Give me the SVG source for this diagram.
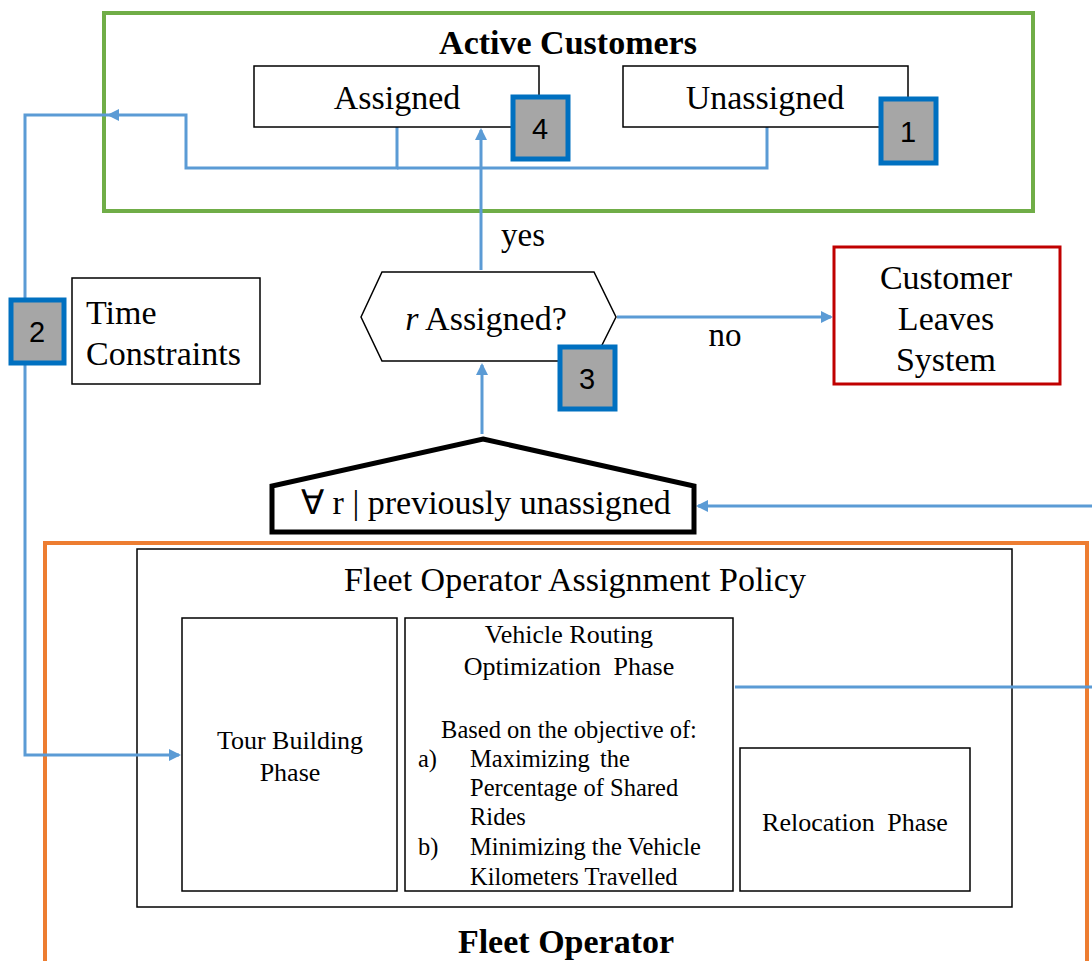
<svg xmlns="http://www.w3.org/2000/svg" width="1092" height="961" viewBox="0 0 1092 961">
<style>
.t{font-family:"Liberation Serif","Times New Roman",serif;fill:#000}
.b{font-weight:bold}
.box{fill:#fff;stroke:#000;stroke-width:1.5}
.badge{fill:#A6A6A6;stroke:#0070C0;stroke-width:5}
.bt{font-family:"Liberation Sans",Arial,sans-serif;font-size:29px;fill:#000;text-anchor:middle}
.c{fill:none;stroke:#5B9BD5;stroke-width:3}
</style>
<defs>
<marker id="ar" markerWidth="12" markerHeight="12" refX="10" refY="6" orient="auto" markerUnits="userSpaceOnUse">
<path d="M0,0 L12,6 L0,12 Z" fill="#5B9BD5"/>
</marker>
</defs>
<rect width="1092" height="961" fill="#fff"/>
<g id="active-customers">
<rect x="104" y="13" width="929" height="198" fill="none" stroke="#70AD47" stroke-width="4"/>
<text class="t b" x="568" y="54" font-size="34" text-anchor="middle">Active Customers</text>
</g>
<g id="fleet-operator">
<rect x="45" y="543" width="1042" height="440" fill="none" stroke="#ED7D31" stroke-width="4"/>
<text class="t b" x="566" y="953" font-size="34" text-anchor="middle">Fleet Operator</text>
</g>
<g id="assignment-policy">
<rect x="137" y="549" width="875" height="358" fill="none" stroke="#000" stroke-width="1.5"/>
<text class="t" x="575" y="591" font-size="34" text-anchor="middle">Fleet Operator Assignment Policy</text>
</g>
<g id="connectors">
<path class="c" d="M397,127 V168 H186 V115 H109" marker-end="url(#ar)"/>
<path class="c" d="M767,127 V168 H397"/>
<path class="c" d="M109,115 H25 V755 H179" marker-end="url(#ar)"/>
<path class="c" d="M481,270 V130" marker-end="url(#ar)"/>
<path class="c" d="M617,317 H831" marker-end="url(#ar)"/>
<path class="c" d="M482,434 V365" marker-end="url(#ar)"/>
<path class="c" d="M1092,506 H698" marker-end="url(#ar)"/>
<path class="c" d="M735,687 H1092"/>
</g>
<g id="assigned">
<rect class="box" x="254" y="66" width="285" height="61"/>
<text class="t" x="397" y="109" font-size="34" text-anchor="middle">Assigned</text>
</g>
<g id="badge4">
<rect class="badge" x="513" y="97" width="55" height="62"/>
<text class="bt" x="540" y="139">4</text>
</g>
<g id="unassigned">
<rect class="box" x="623" y="66" width="285" height="61"/>
<text class="t" x="765" y="109" font-size="34" text-anchor="middle">Unassigned</text>
</g>
<g id="badge1">
<rect class="badge" x="881" y="99" width="55" height="64"/>
<text class="bt" x="908" y="142">1</text>
</g>
<g id="label-yes">
<text class="t" x="523" y="246" font-size="33" text-anchor="middle">yes</text>
</g>
<g id="decision">
<polygon points="361,317 382,272 594,272 616,317 594,361 382,361" fill="#fff" stroke="#000" stroke-width="1.5"/>
<text class="t" x="486" y="330" font-size="34" text-anchor="middle"><tspan font-style="italic">r</tspan> Assigned?</text>
</g>
<g id="badge3">
<rect class="badge" x="560" y="347" width="55" height="62"/>
<text class="bt" x="587" y="389">3</text>
</g>
<g id="label-no">
<text class="t" x="725" y="346" font-size="33" text-anchor="middle">no</text>
</g>
<g id="customer-leaves">
<rect x="834" y="247" width="226" height="137" fill="#fff" stroke="#C00000" stroke-width="3"/>
<text class="t" x="946" y="289" font-size="34" text-anchor="middle">Customer</text>
<text class="t" x="946" y="330" font-size="34" text-anchor="middle">Leaves</text>
<text class="t" x="946" y="371" font-size="34" text-anchor="middle">System</text>
</g>
<g id="time-constraints">
<rect class="box" x="72" y="278" width="188" height="106"/>
<text class="t" x="86" y="324" font-size="34">Time</text>
<text class="t" x="86" y="365" font-size="34">Constraints</text>
</g>
<g id="badge2">
<rect class="badge" x="11" y="300" width="53" height="63"/>
<text class="bt" x="37" y="342">2</text>
</g>
<g id="previously-unassigned">
<polygon points="483,439 694,486 694,532 272,532 272,486" fill="#fff" stroke="#000" stroke-width="5" stroke-linejoin="miter"/>
<text class="t" x="486" y="514" font-size="34" text-anchor="middle">∀ r | previously unassigned</text>
</g>
<g id="tour-building">
<rect class="box" x="182" y="618" width="215" height="273"/>
<text class="t" x="290" y="749" font-size="26" text-anchor="middle">Tour Building</text>
<text class="t" x="290" y="781" font-size="26" text-anchor="middle">Phase</text>
</g>
<g id="vehicle-routing">
<rect class="box" x="405" y="618" width="328" height="273"/>
<text class="t" x="569" y="643" font-size="26" text-anchor="middle">Vehicle Routing</text>
<text class="t" x="569" y="675" font-size="26" text-anchor="middle" word-spacing="6">Optimization Phase</text>
<text class="t" x="569" y="738" font-size="24.5" text-anchor="middle">Based on the objective of:</text>
<text class="t" x="418" y="767" font-size="24.5">a)</text>
<text class="t" x="470" y="767" font-size="24.5" word-spacing="4">Maximizing the</text>
<text class="t" x="470" y="796" font-size="24.5">Percentage of Shared</text>
<text class="t" x="470" y="825" font-size="24.5">Rides</text>
<text class="t" x="418" y="855" font-size="24.5">b)</text>
<text class="t" x="470" y="855" font-size="24.5">Minimizing the Vehicle</text>
<text class="t" x="470" y="885" font-size="24.5">Kilometers Travelled</text>
</g>
<g id="relocation">
<rect class="box" x="740" y="748" width="230" height="143"/>
<text class="t" x="855" y="831" font-size="26" text-anchor="middle" word-spacing="6">Relocation Phase</text>
</g>
</svg>
